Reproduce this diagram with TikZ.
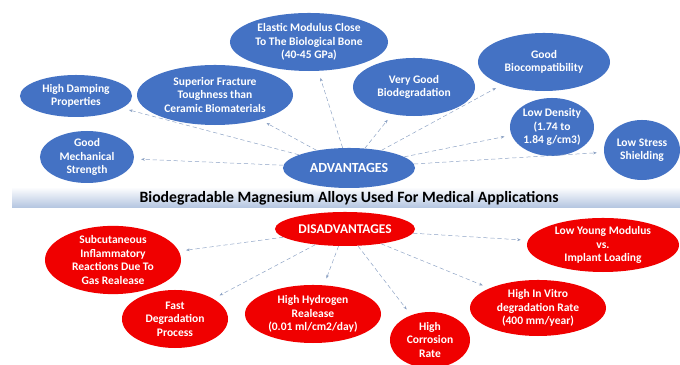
\documentclass[tikz,border=0pt]{standalone}
\usepackage{fontspec}
\setmainfont{Carlito}
\usetikzlibrary{shapes.geometric, arrows.meta, positioning}
\definecolor{advblue}{RGB}{68, 114, 196}
\definecolor{disred}{RGB}{240, 0, 0}
\definecolor{linkgray}{RGB}{140, 162, 196}
\definecolor{barblue}{RGB}{178, 196, 224}
\tikzset{
  advbox/.style={ellipse, fill=advblue, text=white, align=center, inner sep=0pt,
    font=\fontsize{8.2}{9.5}\selectfont\bfseries},
  disbox/.style={ellipse, fill=disred, text=white, align=center, inner sep=0pt,
    font=\fontsize{8.2}{9.5}\selectfont\bfseries},
  link/.style={-{Stealth[length=2.6pt, width=2pt]}, linkgray, line width=0.35pt,
    densely dashed, shorten >=5pt}
}

\begin{document}
\begin{tikzpicture}[x=0.025cm, y=-0.025cm]
  \useasboundingbox (0, 0) rectangle (680, 365);
  \shade[top color=white, bottom color=barblue] (12, 187) rectangle (680, 208);
  \node[font=\fontsize{11.2}{13}\selectfont\bfseries] (title) at (349, 198)
    {Biodegradable Magnesium Alloys Used For Medical Applications};

  \node[advbox, minimum width=3.3cm, minimum height=1.0cm, font=\fontsize{9.9}{11}\selectfont\bfseries] (adv) at (349, 168) {ADVANTAGES};
  \node[advbox, minimum width=3.95cm, minimum height=1.45cm] (elastic) at (309, 42) {Elastic Modulus Close\\To The Biological Bone\\(40-45 GPa)};
  \node[advbox, minimum width=3.9cm, minimum height=1.5cm] (fracture) at (215, 95) {Superior Fracture\\Toughness than\\Ceramic Biomaterials};
  \node[advbox, minimum width=2.8cm, minimum height=1.05cm] (damping) at (76, 96) {High Damping\\Properties};
  \node[advbox, minimum width=2.35cm, minimum height=1.25cm] (mech) at (87, 157) {Good\\Mechanical\\Strength};
  \node[advbox, minimum width=3.05cm, minimum height=1.45cm] (biodeg) at (414, 87) {Very Good\\Biodegradation};
  \node[advbox, minimum width=3.3cm, minimum height=1.45cm] (biocomp) at (544, 62) {Good\\Biocompatibility};
  \node[advbox, minimum width=2.1cm, minimum height=1.45cm] (density) at (552, 127) {Low Density\\(1.74 to\\1.84 g/cm3)};
  \node[advbox, minimum width=1.9cm, minimum height=1.5cm] (shield) at (642, 150) {Low Stress\\Shielding};

  \node[disbox, minimum width=3.5cm, minimum height=0.85cm, font=\fontsize{9.5}{11}\selectfont\bfseries] (dis) at (345, 229) {DISADVANTAGES};
  \node[disbox, minimum width=3.4cm, minimum height=1.4cm] (subcut) at (113, 260) {Subcutaneous\\Inflammatory\\Reactions Due To\\Gas Realease};
  \node[disbox, minimum width=2.65cm, minimum height=1.45cm] (fast) at (175, 319) {Fast\\Degradation\\Process};
  \node[disbox, minimum width=3.4cm, minimum height=1.45cm] (hydrogen) at (313, 314) {High Hydrogen\\Realease\\(0.01 ml/cm2/day)};
  \node[disbox, minimum width=2.0cm, minimum height=1.4cm] (corrosion) at (430, 340) {High\\Corrosion\\Rate};
  \node[disbox, minimum width=3.4cm, minimum height=1.4cm] (vitro) at (538, 308) {High In Vitro\\degradation Rate\\(400 mm/year)};
  \node[disbox, minimum width=3.8cm, minimum height=1.35cm] (young) at (603, 245) {Low Young Modulus\\vs.\\Implant Loading};

  \foreach \target in {elastic, fracture, damping, mech, biodeg, biocomp, density, shield}
    \draw[link] (adv) -- (\target);
  \foreach \target in {subcut, fast, hydrogen, corrosion, vitro, young}
    \draw[link] (dis) -- (\target);
\end{tikzpicture}
\end{document}
